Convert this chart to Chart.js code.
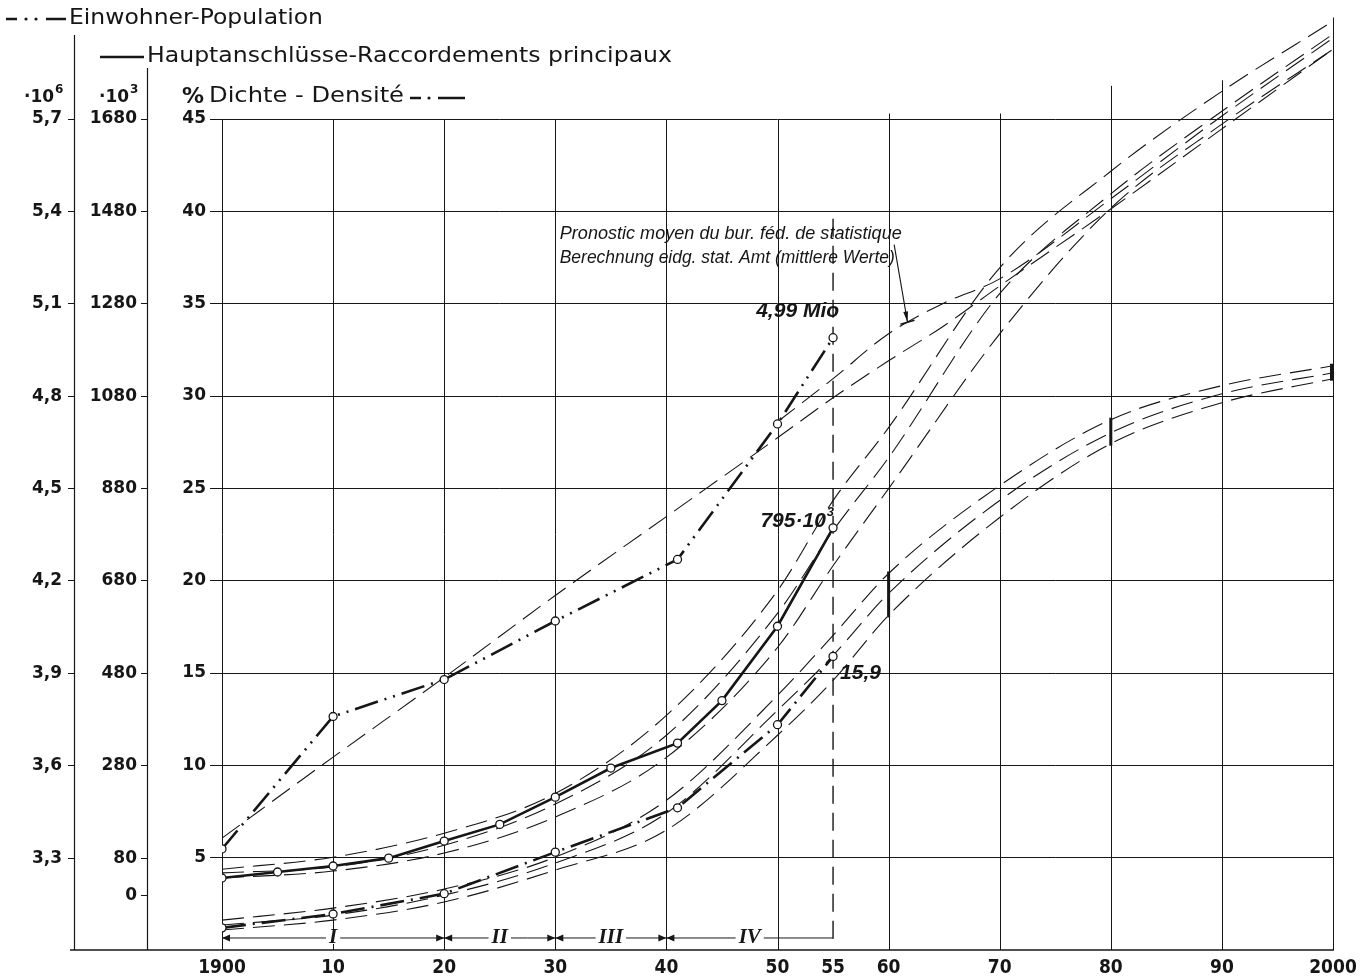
<!DOCTYPE html>
<html>
<head>
<meta charset="utf-8">
<title>Einwohner - Hauptanschlüsse - Dichte</title>
<script src="https://cdn.jsdelivr.net/npm/chart.js@4.4.0/dist/chart.umd.min.js"></script>
<style>
  html, body { margin: 0; padding: 0; background: #fff; }
  #chart { display: block; }
</style>
</head>
<body>
<canvas id="chart" width="1364" height="980"></canvas>
<script>
// measured values
var popYears = [1900, 1910, 1920, 1930, 1941, 1950, 1955];
var popValues = [3.33, 3.76, 3.88, 4.07, 4.27, 4.71, 4.99];            // 10^6
var connYears = [1900, 1905, 1910, 1915, 1920, 1925, 1930, 1935, 1941, 1945, 1950, 1955];
var connValues = [37, 50, 63, 80, 117, 153, 212, 275, 329, 421, 582, 795]; // 10^3
var densYears = [1900, 1910, 1920, 1930, 1941, 1950, 1955];
var densValues = [1.2, 1.95, 3.05, 5.3, 7.7, 12.2, 15.9];              // %

// forecast bands (upper / middle / lower)
var bandYears = [1900, 1910, 1920, 1930, 1940, 1950, 1955, 1960, 1970, 1980, 1990, 2000];
var connUpper = [56, 82, 134, 220, 389, 659, 854, 1012, 1358, 1567, 1740, 1892];
var connMiddle = [48, 61, 108, 197, 346, 610, 789, 947, 1302, 1518, 1697, 1864];
var connLower = [37, 52, 91, 169, 298, 536, 713, 880, 1215, 1487, 1669, 1831];
var densUpper = [1.62, 2.27, 3.30, 5.03, 8.11, 13.79, 17.04, 20.39, 25.15, 28.72, 30.56, 31.64];
var densMiddle = [1.35, 1.89, 2.97, 4.71, 7.41, 12.98, 15.95, 19.31, 24.34, 28.01, 30.12, 31.26];
var densLower = [1.08, 1.62, 2.60, 4.33, 6.49, 11.63, 14.60, 18.12, 23.42, 27.42, 29.64, 30.94];

// population forecasts
var popTrendYears = [1900, 1910, 1920, 1930, 1940, 1950, 1955, 1960, 1965, 1970, 1980, 1990, 2000];
var popTrend = [3.365, 3.628, 3.887, 4.153, 4.409, 4.665, 4.795, 4.915, 5.029, 5.158, 5.408, 5.668, 5.927];
var popCalcYears = [1950, 1955, 1960, 1965, 1970, 1980, 1990, 2000];
var popCalc = [4.717, 4.857, 5.003, 5.103, 5.181, 5.441, 5.710, 5.963];

var rangeYears = [1960, 1980, 2000];

var xTicks = [1900, 1910, 1920, 1930, 1940, 1950, 1955, 1960, 1970, 1980, 1990, 2000];
var pctTicks = [0, 5, 10, 15, 20, 25, 30, 35, 40, 45];
var connTicks = [0, 80, 280, 480, 680, 880, 1080, 1280, 1480, 1680];
var popTicks = [3.3, 3.6, 3.9, 4.2, 4.5, 4.8, 5.1, 5.4, 5.7];

var periods = ['I', 'II', 'III', 'IV'];
var periodStart = [1900, 1920, 1930, 1940];
var periodEnd = [1920, 1930, 1940, 1955];

var ink = '#161616';
var sans = '"DejaVu Sans", "Noto Sans", sans-serif';

function series(xs, ys) {
  return xs.map(function (x, i) { return { x: x, y: ys[i] }; });
}

function measured(xs, ys, axis, dash) {
  return {
    data: series(xs, ys), yAxisID: axis,
    borderColor: ink, borderWidth: 2.6, borderDash: dash,
    pointRadius: 4, pointBorderWidth: 1.3, pointBackgroundColor: '#fff', pointBorderColor: ink,
    tension: 0, fill: false
  };
}

function forecast(xs, ys, axis) {
  return {
    data: series(xs, ys), yAxisID: axis,
    borderColor: ink, borderWidth: 1.1, borderDash: [22, 9],
    pointRadius: 0, cubicInterpolationMode: 'monotone', fill: false
  };
}

function fixedTicks(list) {
  return function (scale) { scale.ticks = list.map(function (v) { return { value: v }; }); };
}

function fixedWidth(w) {
  return function (scale) { scale.width = w; };
}

// draw text squeezed or stretched to a given width (the original lettering is wider)
function wideText(c, str, x, y, width) {
  var w = c.measureText(str).width;
  c.save();
  c.translate(x, y);
  c.scale(width / w, 1);
  c.fillText(str, 0, 0);
  c.restore();
}

var drawings = {
  id: 'drawings',
  beforeDatasetsDraw: function (chart) {
    var c = chart.ctx, a = chart.chartArea, sx = chart.scales.x, sp = chart.scales.yPct;
    c.save();
    c.strokeStyle = ink;
    c.lineWidth = 1;
    var gridTop = { 1960: 45.3, 1970: 45.3, 1980: 46.8, 1990: 47.1, 2000: 50.5 };
    for (var yr = 1900; yr <= 2000; yr += 10) {
      var x = Math.round(sx.getPixelForValue(yr)) + 0.5;
      c.beginPath();
      c.moveTo(x, sp.getPixelForValue(gridTop[yr] || 45));
      c.lineTo(x, a.bottom);
      c.stroke();
    }
    c.lineWidth = 1.2;
    [['yPop', 35], ['yConn', 68]].forEach(function (d) {
      var xx = Math.round(chart.scales[d[0]].right) - 0.5;
      c.beginPath();
      c.moveTo(xx, d[1]);
      c.lineTo(xx, a.bottom);
      c.stroke();
    });
    c.lineWidth = 1.6;
    c.beginPath();
    c.moveTo(70, a.bottom);
    c.lineTo(a.right + 1, a.bottom);
    c.stroke();
    // dashed marker line at 1955
    c.lineWidth = 1.4;
    c.setLineDash([18, 9]);
    var x55 = sx.getPixelForValue(1955);
    c.beginPath();
    c.moveTo(x55, sp.getPixelForValue(39.6));
    c.lineTo(x55, sp.getPixelForValue(0.3));
    c.stroke();
    c.restore();
  },
  afterDatasetsDraw: function (chart) {
    var c = chart.ctx, sx = chart.scales.x, sp = chart.scales.yPct;
    c.save();
    c.strokeStyle = ink;
    c.fillStyle = ink;
    // range bars on the density band
    c.lineWidth = 3;
    rangeYears.forEach(function (yr) {
      var i = bandYears.indexOf(yr);
      var x = sx.getPixelForValue(yr) - (yr === 2000 ? 1.5 : 0);
      c.beginPath();
      c.moveTo(x, sp.getPixelForValue(densUpper[i]) - 2);
      c.lineTo(x, sp.getPixelForValue(densLower[i]) + 2);
      c.stroke();
    });
    // periods I - IV
    var y = sp.getPixelForValue(0.65);
    c.lineWidth = 1;
    c.beginPath();
    c.moveTo(sx.getPixelForValue(periodStart[0]), y);
    c.lineTo(sx.getPixelForValue(periodEnd[periodEnd.length - 1]), y);
    c.stroke();
    c.font = 'italic bold 21px "Liberation Serif", "DejaVu Serif", serif';
    c.textAlign = 'center';
    c.textBaseline = 'middle';
    periods.forEach(function (p, i) {
      var x0 = sx.getPixelForValue(periodStart[i]), x1 = sx.getPixelForValue(periodEnd[i]);
      c.beginPath();
      c.moveTo(x0, y); c.lineTo(x0 + 8, y - 3.5); c.lineTo(x0 + 8, y + 3.5); c.closePath();
      c.fill();
      if (i < periods.length - 1) {
        c.beginPath();
        c.moveTo(x1, y); c.lineTo(x1 - 8, y - 3.5); c.lineTo(x1 - 8, y + 3.5); c.closePath();
        c.fill();
      }
      var xm = (x0 + x1) / 2, w = c.measureText(p).width;
      c.fillStyle = '#fff';
      c.fillRect(xm - w / 2 - 3, y - 6, w + 6, 12);
      c.fillStyle = ink;
      c.fillText(p, xm, y);
    });
    c.restore();
  },
  afterDraw: function (chart) {
    var c = chart.ctx, sx = chart.scales.x, sp = chart.scales.yPct;
    var sPop = chart.scales.yPop, sConn = chart.scales.yConn;
    c.save();
    c.fillStyle = ink;
    c.strokeStyle = ink;
    c.textBaseline = 'middle';
    c.textAlign = 'left';

    // header / legend
    c.lineWidth = 2.6;
    c.beginPath(); c.moveTo(6, 19); c.lineTo(17, 19); c.moveTo(46, 19); c.lineTo(66, 19); c.stroke();
    c.beginPath(); c.arc(26, 19, 1.6, 0, Math.PI * 2); c.arc(36, 19, 1.6, 0, Math.PI * 2); c.fill();
    c.font = '21px ' + sans;
    wideText(c, 'Einwohner-Population', 69, 19, 254);

    c.beginPath(); c.moveTo(100, 57); c.lineTo(144, 57); c.stroke();
    wideText(c, 'Hauptanschlüsse-Raccordements principaux', 147, 57, 525);

    c.font = 'bold 17px ' + sans;
    var w10 = c.measureText('·10').width;
    c.fillText('·10', 24, 98);
    c.fillText('·10', 99, 98);
    c.font = 'bold 12px ' + sans;
    c.fillText('6', 25 + w10, 90);
    c.fillText('3', 100 + w10, 90);
    c.font = 'bold 22px ' + sans;
    c.fillText('%', 182, 97);
    c.font = '21px ' + sans;
    wideText(c, 'Dichte - Densité', 209, 97, 195);
    c.beginPath(); c.moveTo(410, 98); c.lineTo(421, 98); c.moveTo(438, 98); c.lineTo(465, 98); c.stroke();
    c.beginPath(); c.arc(429, 98, 1.6, 0, Math.PI * 2); c.fill();

    // notes
    c.font = 'italic 18px "Liberation Sans", Arial, sans-serif';
    var xn = sx.getPixelForValue(1930.4);
    wideText(c, 'Pronostic moyen du bur. féd. de statistique', xn, sp.getPixelForValue(38.8), 342);
    wideText(c, 'Berechnung eidg. stat. Amt (mittlere Werte)', xn, sp.getPixelForValue(37.45), 335);
    // arrow to the forecast line
    var ax0 = sx.getPixelForValue(1960.5), ay0 = sp.getPixelForValue(38.2);
    var ax1 = sx.getPixelForValue(1961.7), ay1 = sp.getPixelForValue(34.0);
    c.lineWidth = 1.1;
    c.beginPath(); c.moveTo(ax0, ay0); c.lineTo(ax1, ay1); c.stroke();
    var ang = Math.atan2(ay1 - ay0, ax1 - ax0);
    c.beginPath();
    c.moveTo(ax1, ay1);
    c.lineTo(ax1 - 11 * Math.cos(ang - 0.22), ay1 - 11 * Math.sin(ang - 0.22));
    c.lineTo(ax1 - 11 * Math.cos(ang + 0.22), ay1 - 11 * Math.sin(ang + 0.22));
    c.closePath();
    c.fill();
    c.lineWidth = 1.6;
    c.beginPath(); c.moveTo(ax1 - 7, ay1 + 2); c.lineTo(ax1 + 7, ay1 - 2); c.stroke();

    // end values
    var last = popYears.length - 1;
    var px = sx.getPixelForValue(popYears[last]), py = sPop.getPixelForValue(popValues[last]);
    c.font = 'italic bold 21px "Liberation Sans", Arial, sans-serif';
    c.textAlign = 'right';
    c.fillText('4,99 Mio', px + 6, py - 26);
    var cl = connYears.length - 1;
    var cx = sx.getPixelForValue(connYears[cl]), cy = sConn.getPixelForValue(connValues[cl]);
    c.font = 'italic bold 13px "Liberation Sans", Arial, sans-serif';
    c.fillText('3', cx + 1, cy - 15);
    var wSup = c.measureText('3').width;
    c.font = 'italic bold 21px "Liberation Sans", Arial, sans-serif';
    c.fillText('795·10', cx - wSup, cy - 7);
    var dl = densYears.length - 1;
    c.textAlign = 'left';
    c.fillText('15,9', sx.getPixelForValue(densYears[dl]) + 7, sp.getPixelForValue(densValues[dl]) + 17);
    c.restore();
  }
};

var ctx = document.getElementById('chart').getContext('2d');
var myChart = new Chart(ctx, {
  type: 'line',
  data: {
    datasets: [
      measured(popYears, popValues, 'yPop', [24, 7, 2, 7, 2, 7]),
      measured(connYears, connValues, 'yConn', []),
      measured(densYears, densValues, 'yPct', [24, 7, 2, 7]),
      forecast(bandYears, connUpper, 'yConn'),
      forecast(bandYears, connMiddle, 'yConn'),
      forecast(bandYears, connLower, 'yConn'),
      forecast(bandYears, densUpper, 'yPct'),
      forecast(bandYears, densMiddle, 'yPct'),
      forecast(bandYears, densLower, 'yPct'),
      forecast(popTrendYears, popTrend, 'yPop'),
      forecast(popCalcYears, popCalc, 'yPop')
    ]
  },
  options: {
    responsive: false,
    animation: false,
    devicePixelRatio: 1,
    layout: {
      padding: { left: 0, right: 31, top: 15, bottom: 0 }
    },
    scales: {
      x: {
        type: 'linear',
        min: 1900,
        max: 2000,
        afterBuildTicks: fixedTicks(xTicks),
        afterFit: function (s) { s.height = 30; },
        grid: { display: false, drawTicks: false },
        border: { display: false },
        ticks: {
          autoSkip: false, maxRotation: 0, minRotation: 0, padding: 7,
          color: ink,
          font: { family: '"DejaVu Sans Condensed", "Liberation Sans Narrow", sans-serif', size: 19, weight: 'bold' },
          callback: function (v) { return (v === 1900 || v === 2000) ? String(v) : String(v % 100); }
        }
      },
      yPct: {
        position: 'left',
        weight: 0,
        min: 0,
        max: 50.57,
        afterBuildTicks: fixedTicks(pctTicks),
        afterFit: fixedWidth(74),
        border: { display: false },
        grid: {
          drawOnChartArea: true,
          tickLength: 12,
          lineWidth: 1,
          color: function (c) { return (c.tick && c.tick.value > 0) ? ink : 'rgba(0,0,0,0)'; }
        },
        ticks: {
          color: ink, padding: 4,
          font: { family: sans, size: 17, weight: 'bold' },
          callback: function (v) { return v > 0 ? String(v) : ''; }
        }
      },
      yConn: {
        position: 'left',
        weight: 1,
        min: -118.9,
        max: 1902.7,
        afterBuildTicks: fixedTicks(connTicks),
        afterFit: fixedWidth(73),
        border: { display: false },
        grid: { drawOnChartArea: false, tickLength: 7, color: ink },
        ticks: {
          color: ink, padding: 4,
          font: { family: sans, size: 17, weight: 'bold' },
          callback: function (v) { return String(v); }
        }
      },
      yPop: {
        position: 'left',
        weight: 2,
        min: 3.0017,
        max: 6.034,
        afterBuildTicks: fixedTicks(popTicks),
        afterFit: fixedWidth(75),
        border: { display: false },
        grid: { drawOnChartArea: false, tickLength: 7, color: ink },
        ticks: {
          color: ink, padding: 6,
          font: { family: sans, size: 17, weight: 'bold' },
          callback: function (v) { return v.toFixed(1).replace('.', ','); }
        }
      }
    },
    plugins: {
      legend: { display: false },
      tooltip: { enabled: false }
    }
  },
  plugins: [drawings]
});
</script>
</body>
</html>
